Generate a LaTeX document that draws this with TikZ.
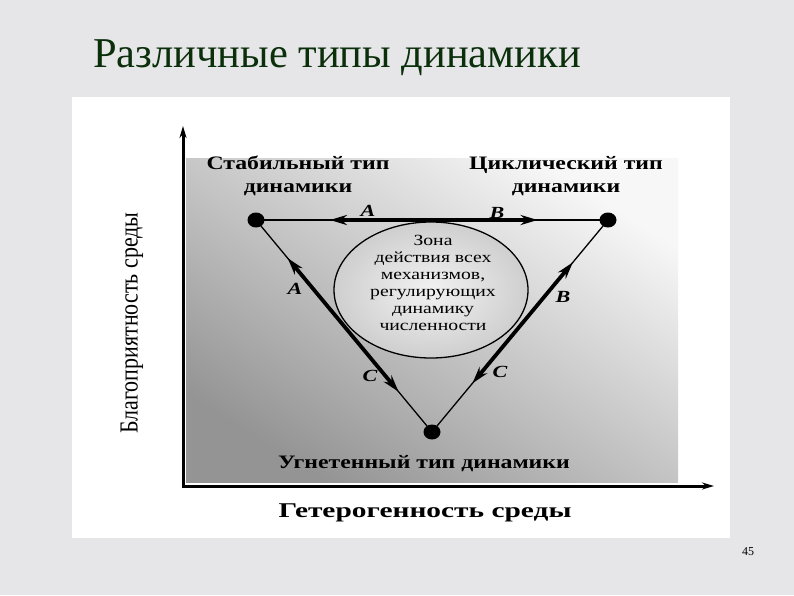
\documentclass[tikz,border=0pt]{standalone}
\usepackage{fontspec}
\setmainfont{Liberation Serif}
\usetikzlibrary{arrows.meta,calc,shapes.geometric}
\definecolor{slidebg}{HTML}{E6E6E8}
\definecolor{titlegreen}{HTML}{0B2E0B}
\newcommand{\widetxt}[2][1.28]{\scalebox{#1}[1]{#2}}
\tikzset{
  lbl/.style={font=\rmfamily\fontsize{19}{23}\selectfont\bfseries, inner sep=0, align=center},
  letter/.style={font=\rmfamily\fontsize{17}{19}\selectfont\bfseries\itshape, inner sep=0},
  zonetext/.style={font=\rmfamily\fontsize{15.5}{17}\selectfont, inner sep=0, align=center},
  dotnode/.style={ellipse, fill=black, inner sep=0, minimum width=17pt, minimum height=15pt},
  thin/.style={line width=1.3pt},
  thick arrow/.style={line width=3.8pt, -{Stealth[length=17pt,width=10pt]}},
  axis/.style={line width=3pt, {Stealth[length=12pt,width=7pt]}-{Stealth[length=12pt,width=7pt]}},
}
\begin{document}
\begin{tikzpicture}[x=1pt,y=-1pt]
\fill[slidebg] (0,0) rectangle (794,595);
\useasboundingbox (0,0) rectangle (794,595);
\node[anchor=base west, inner sep=0, text=titlegreen, font=\rmfamily\fontsize{42.5}{48}\selectfont] (title) at (93,67) {Различные типы динамики};
\fill[white] (72,97) rectangle (730,538);
\shade[top color=gray!6, bottom color=gray!84, shading angle=-32] (186,158) rectangle (678,482);
% axes
\coordinate (O) at (183,486);
\coordinate (ytip) at (183,126);
\coordinate (xtip) at (714,486);
\draw[axis] (ytip) -- (O) -- (xtip);
% zone
\node[ellipse, draw, line width=1.3pt, inner color=gray!10, outer color=gray!38, minimum width=194pt, minimum height=136pt] (zone) at (431,290) {};
\node[zonetext] (zt) at (433,283) {\widetxt[1.27]{Зона}\\\widetxt[1.27]{действия всех}\\\widetxt[1.27]{механизмов,}\\\widetxt[1.27]{регулирующих}\\\widetxt[1.27]{динамику}\\\widetxt[1.27]{численности}};
% dots
\node[dotnode] (L) at (256,220) {};
\node[dotnode] (R) at (608,220) {};
\node[dotnode] (D) at (432,432) {};
\draw[thin] (L.center) -- (R.center);
\draw[thin] (L.center) -- (D.center);
\draw[thin] (R.center) -- (D.center);
% thick arrows
\coordinate (tm) at ($(L)!0.503!(R)$);
\coordinate (tA) at ($(L)!0.21!(R)$);
\coordinate (tB) at ($(L)!0.80!(R)$);
\draw[thick arrow] (tm) -- (tA);
\draw[thick arrow] (tm) -- (tB);
\coordinate (lm) at ($(L)!0.5!(D)$);
\coordinate (lA) at ($(L)!0.18!(D)$);
\coordinate (lC) at ($(L)!0.81!(D)$);
\draw[thick arrow] (lm) -- (lA);
\draw[thick arrow] (lm) -- (lC);
\coordinate (rm) at ($(R)!0.5!(D)$);
\coordinate (rB) at ($(R)!0.20!(D)$);
\coordinate (rC) at ($(R)!0.77!(D)$);
\draw[thick arrow] (rm) -- (rB);
\draw[thick arrow] (rm) -- (rC);
% labels
\node[lbl] (stab) at (298,176) {\widetxt[1.25]{Стабильный тип}\\\widetxt[1.25]{динамики}};
\node[lbl] (cycl) at (566,176) {\widetxt[1.25]{Циклический тип}\\\widetxt[1.25]{динамики}};
\node[lbl] (ugn) at (424,464) {\widetxt[1.25]{Угнетенный тип динамики}};
\node[letter] (a1) at (368,211) {\widetxt[1.3]{A}};
\node[letter] (b1) at (497,213) {\widetxt[1.3]{B}};
\node[letter] (a2) at (295,289) {\widetxt[1.3]{A}};
\node[letter] (b2) at (563,297) {\widetxt[1.3]{B}};
\node[letter] (c1) at (370,376) {\widetxt[1.3]{C}};
\node[letter] (c2) at (500,372) {\widetxt[1.3]{C}};
% axis labels
\node[inner sep=0, font=\rmfamily\fontsize{21}{24}\selectfont\bfseries] (xl) at (425,513) {\widetxt[1.4]{Гетерогенность среды}};
\node[inner sep=0, rotate=90, font=\rmfamily\fontsize{20}{24}\selectfont] (yl) at (132,323) {\scalebox{1.1}[1.3]{Благоприятность среды}};
\node[inner sep=0, font=\rmfamily\fontsize{12}{14}\selectfont] (pg) at (748,552) {45};
\end{tikzpicture}
\end{document}
